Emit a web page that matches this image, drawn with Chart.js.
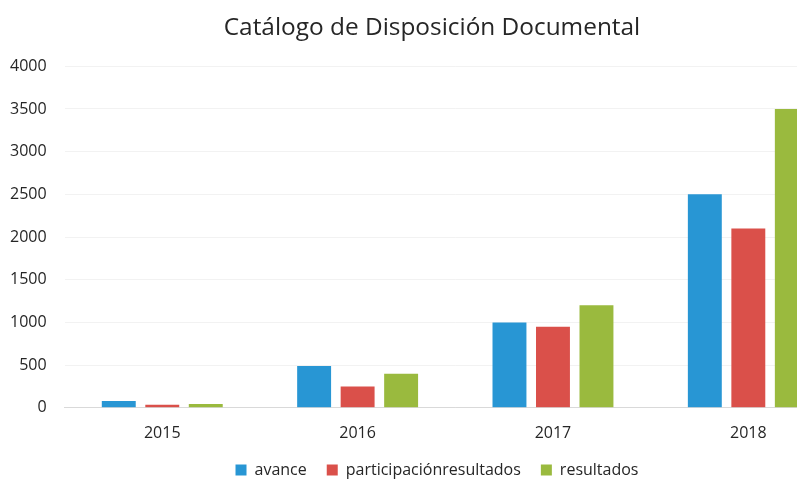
<!DOCTYPE html>
<html>
<head>
<meta charset="utf-8">
<script src="https://cdn.jsdelivr.net/npm/chart.js@4/dist/chart.umd.min.js"></script>
<style>
  html, body { margin:0; padding:0; background:#fff; overflow:hidden; }
  #wrap { width:866px; height:481px; }
</style>
</head>
<body>
<div id="wrap"><canvas id="chart" width="866" height="481"></canvas></div>
<script>
/* ── Datos ── */
const years         = ['2015','2016','2017','2018'];
const avance        = [80, 490, 1000, 2500];
const participacion = [35, 250, 950, 2100];
const resultados    = [45, 400, 1200, 3500];
const yTicks        = [0, 500, 1000, 1500, 2000, 2500, 3000, 3500, 4000];

const FONT = "'Open Sans', 'Noto Sans', sans-serif";
const TXT  = '#262626';

/* título y leyenda centrados sobre el área del gráfico (como en Excel) */
const shiftBlocks = {
  id:'shiftBlocks',
  afterLayout(chart) {
    if (chart.titleBlock) { chart.titleBlock.left += 13; chart.titleBlock.right += 13; }
    if (chart.legend)     { chart.legend.left += 18;     chart.legend.right += 18; }
  }
};

new Chart(document.getElementById('chart'), {
  type: 'bar',
  data: {
    labels: years,
    datasets: [
      { label:'avance', data:avance, backgroundColor:'rgb(40,150,212)' },
      { label:'participaciónresultados', data:participacion, backgroundColor:'rgb(218,80,74)' },
      { label:'resultados', data:resultados, backgroundColor:'rgb(154,186,62)' }
    ]
  },
  plugins:[shiftBlocks],
  options: {
    responsive:false, animation:false,
    categoryPercentage:0.668, barPercentage:0.78,
    layout:{ padding:{ left:-8, right:20, top:7, bottom:-7 } },
    plugins:{
      title:{ display:true, text:'Catálogo de Disposición Documental', color:TXT,
        font:{ family:FONT, size:24.4, weight:'normal' }, padding:{ top:6, bottom:24 } },
      legend:{ position:'bottom',
        labels:{ color:TXT, font:{ family:FONT, size:16 }, boxWidth:11, boxHeight:11, padding:20 } },
      tooltip:{ enabled:false }
    },
    scales:{
      x:{
        grid:{ display:false, drawTicks:false },
        border:{ display:true, color:'#d9d9d9' },
        ticks:{ color:TXT, font:{ family:FONT, size:16 }, padding:16 },
        afterFit: s => { s.height -= 17; }
      },
      y:{
        min:0, max:4000,
        afterBuildTicks: ax => { ax.ticks = yTicks.map(v => ({ value:v })); },
        grid:{ color: c => c.tick && c.tick.value === 0 ? '#d9d9d9' : 'rgba(0,0,0,0.05)', drawTicks:false },
        border:{ display:false },
        ticks:{ color:TXT, font:{ family:FONT, size:16 }, padding:18, callback: v => String(v) }
      }
    }
  }
});
</script>
</body>
</html>
